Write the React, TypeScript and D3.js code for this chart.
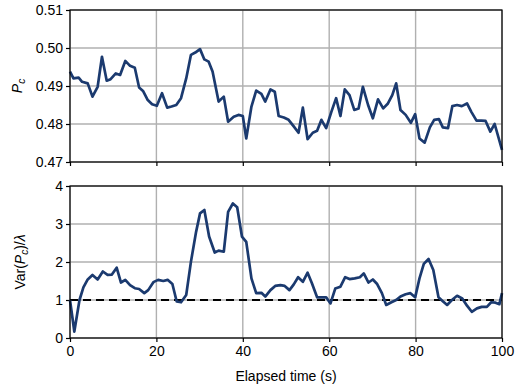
import React, { useEffect, useRef } from "react";
import * as d3 from "d3";

// top panel: P_c over time
const pcTime = [0, 0.8, 2, 2.8, 4.1, 5.2, 6.4, 7.4, 8.5, 9.4, 10.6, 11.6, 12.8, 13.9, 15, 16, 16.9, 18, 19, 20.1,
  21.3, 22.5, 23.5, 24.6, 25.7, 26.9, 28, 29, 30.1, 31.1, 32.1, 33, 34.4, 35.6, 36.6, 37.9, 39, 40, 40.8, 42,
  43.1, 44.3, 45.2, 46.4, 47.4, 48.3, 49.5, 50.6, 51.7, 52.9, 53.9, 55, 56.2, 57.2, 58.2, 59.3, 60.5, 61.6, 62.6, 63.6,
  64.7, 65.8, 66.8, 67.8, 69, 70.1, 71.3, 72.5, 73.6, 74.6, 75.5, 76.5, 77.7, 78.9, 79.9, 80.9, 82.1, 83.3, 84.3, 85.4,
  86.3, 87.5, 88.5, 89.6, 90.7, 91.9, 92.9, 94.1, 95.2, 96.2, 97.3, 98.3, 100];
const pcValue = [0.4938, 0.492, 0.4922, 0.4911, 0.4907, 0.4872, 0.4898, 0.4977, 0.4914, 0.4918, 0.4933, 0.4929, 0.4966, 0.4953, 0.4948, 0.4896, 0.4887, 0.4863, 0.4852, 0.4848,
  0.4881, 0.4843, 0.4846, 0.485, 0.4868, 0.492, 0.4982, 0.4988, 0.4997, 0.497, 0.4964, 0.4938, 0.4859, 0.4872, 0.4806, 0.4819, 0.4824, 0.4821, 0.4762, 0.4846,
  0.4888, 0.4879, 0.4859, 0.4891, 0.4885, 0.4821, 0.4817, 0.4811, 0.4795, 0.4777, 0.4843, 0.476, 0.4777, 0.4782, 0.4811, 0.4789, 0.4832, 0.4868, 0.4821, 0.4891,
  0.4876, 0.4837, 0.4841, 0.4898, 0.485, 0.4815, 0.4865, 0.4841, 0.4854, 0.4876, 0.4907, 0.4837, 0.4824, 0.4803, 0.4826, 0.4762, 0.4751, 0.4791, 0.4811, 0.4813,
  0.4791, 0.4789, 0.4847, 0.485, 0.4847, 0.4854, 0.4832, 0.4809, 0.4809, 0.4808, 0.478, 0.48, 0.4732];

// bottom panel: Var(P_c)/lambda over time
const varTime = [0, 1, 2.2, 3.1, 4.1, 5.2, 6.4, 7.6, 8.7, 9.7, 10.8, 11.8, 12.8, 13.9, 15, 16, 17.2, 18.1, 19.3, 20.4,
  21.6, 22.6, 23.7, 24.7, 25.7, 26.9, 28, 29.2, 30.1, 31.1, 32.2, 33.5, 34.4, 35.6, 36.6, 37.7, 38.7, 39.8, 40.8, 42,
  43.1, 44.3, 45.2, 46.4, 47.5, 48.7, 49.7, 50.8, 51.8, 52.8, 53.9, 55, 56, 57.2, 58.3, 59.3, 60.3, 61.4, 62.6, 63.7,
  64.7, 65.9, 67.1, 68, 69.1, 70.1, 71.1, 72.2, 73.2, 74.4, 75.5, 76.5, 77.7, 78.8, 79.9, 80.9, 81.9, 83, 84.1, 85.3,
  86.3, 87.3, 88.4, 89.6, 90.8, 91.9, 93, 94.2, 95.3, 96.5, 97.5, 98.5, 99.4, 100];
const varValue = [1.0, 0.17, 1.0, 1.33, 1.54, 1.66, 1.54, 1.75, 1.66, 1.67, 1.85, 1.46, 1.53, 1.39, 1.31, 1.29, 1.18, 1.26, 1.47, 1.53,
  1.5, 1.53, 1.42, 0.96, 0.94, 1.13, 2.01, 2.8, 3.28, 3.37, 2.67, 2.25, 2.3, 2.27, 3.32, 3.54, 3.44, 2.67, 2.53, 1.57,
  1.18, 1.19, 1.09, 1.26, 1.37, 1.39, 1.37, 1.26, 1.41, 1.6, 1.48, 1.72, 1.44, 1.07, 1.07, 1.07, 0.91, 1.3, 1.35, 1.6,
  1.55, 1.57, 1.6, 1.7, 1.46, 1.54, 1.42, 1.18, 0.87, 0.94, 1.0, 1.09, 1.15, 1.18, 1.07, 1.57, 1.95, 2.08, 1.79, 1.07,
  0.97, 0.87, 1.0, 1.11, 1.04, 0.85, 0.69, 0.78, 0.82, 0.82, 0.94, 0.93, 0.89, 1.18];

const xTicks = [0, 20, 40, 60, 80, 100];
const pcTicks = [0.47, 0.48, 0.49, 0.5, 0.51];
const varTicks = [0, 1, 2, 3, 4];
const refLevel = 1;

const W = 520, H = 390;
const left = 70, right = 502;
const top1 = 10, bot1 = 162;
const top2 = 186, bot2 = 338;
const lineColor = "#1b3a6f";
const font = "'Liberation Sans', Arial, sans-serif";
const fs = 14;

export default function App() {
  const ref = useRef<SVGSVGElement>(null);

  useEffect(() => {
    const svg = d3.select(ref.current);
    svg.selectAll("*").remove();

    const x = d3.scaleLinear().domain([0, 100]).range([left, right]);
    const y1 = d3.scaleLinear().domain([0.47, 0.51]).range([bot1, top1]);
    const y2 = d3.scaleLinear().domain([0, 4]).range([bot2, top2]);

    function panel(y, yTicks, fmt, top, bot, showX) {
      const g = svg.append("g");
      // grid
      g.selectAll(".gx").data(xTicks).enter().append("line")
        .attr("x1", (d) => x(d)).attr("x2", (d) => x(d))
        .attr("y1", top).attr("y2", bot)
        .attr("stroke", "#b0b0b0").attr("stroke-width", 1.4);
      g.selectAll(".gy").data(yTicks).enter().append("line")
        .attr("x1", left).attr("x2", right)
        .attr("y1", (d) => y(d)).attr("y2", (d) => y(d))
        .attr("stroke", "#b0b0b0").attr("stroke-width", 1.4);

      const xAxis = g.append("g").attr("transform", `translate(0,${bot})`)
        .call(d3.axisBottom(x).tickValues(xTicks).tickSize(4).tickSizeOuter(0)
          .tickFormat(showX ? d3.format("d") : () => ""));
      const yAxis = g.append("g").attr("transform", `translate(${left},0)`)
        .call(d3.axisLeft(y).tickValues(yTicks).tickSize(4).tickSizeOuter(0).tickFormat(fmt));
      [xAxis, yAxis].forEach((a) => {
        a.select(".domain").remove();
        a.selectAll("line").attr("stroke", "#000").attr("stroke-width", 1.2);
        a.selectAll("text").attr("font-family", font).attr("font-size", fs).attr("fill", "#000");
      });
      yAxis.selectAll("text").attr("x", -7);
      xAxis.selectAll("text").attr("y", 8);
      return g;
    }

    const g1 = panel(y1, pcTicks, d3.format(".2f"), top1, bot1, false);
    const pcData = pcTime.map((t, i) => ({ t, v: pcValue[i] }));
    g1.append("path").datum(pcData)
      .attr("fill", "none").attr("stroke", lineColor).attr("stroke-width", 2.7)
      .attr("stroke-linejoin", "round")
      .attr("d", d3.line<any>().x((d) => x(d.t)).y((d) => y1(d.v)));
    g1.append("rect").attr("x", left).attr("y", top1).attr("width", right - left).attr("height", bot1 - top1)
      .attr("fill", "none").attr("stroke", "#000").attr("stroke-width", 1.2);

    const g2 = panel(y2, varTicks, d3.format("d"), top2, bot2, true);
    g2.append("line").attr("x1", left).attr("x2", right)
      .attr("y1", y2(refLevel)).attr("y2", y2(refLevel))
      .attr("stroke", "#000").attr("stroke-width", 2).attr("stroke-dasharray", "8,5");
    const varData = varTime.map((t, i) => ({ t, v: varValue[i] }));
    g2.append("path").datum(varData)
      .attr("fill", "none").attr("stroke", lineColor).attr("stroke-width", 2.7)
      .attr("stroke-linejoin", "round")
      .attr("d", d3.line<any>().x((d) => x(d.t)).y((d) => y2(d.v)));
    g2.append("rect").attr("x", left).attr("y", top2).attr("width", right - left).attr("height", bot2 - top2)
      .attr("fill", "none").attr("stroke", "#000").attr("stroke-width", 1.2);

    // axis titles
    svg.append("text").attr("x", (left + right) / 2).attr("y", 381)
      .attr("text-anchor", "middle").attr("font-family", font).attr("font-size", fs)
      .text("Elapsed time (s)");

    const t1 = svg.append("text")
      .attr("transform", `translate(22,${(top1 + bot1) / 2}) rotate(-90)`)
      .attr("text-anchor", "middle").attr("font-family", font).attr("font-size", fs);
    t1.append("tspan").attr("font-style", "italic").text("P");
    t1.append("tspan").attr("font-style", "italic").attr("font-size", 10).attr("dy", 3).text("c");

    const t2 = svg.append("text")
      .attr("transform", `translate(25,${(top2 + bot2) / 2}) rotate(-90)`)
      .attr("text-anchor", "middle").attr("font-family", font).attr("font-size", fs);
    t2.append("tspan").text("Var(");
    t2.append("tspan").attr("font-style", "italic").text("P");
    t2.append("tspan").attr("font-style", "italic").attr("font-size", 10).attr("dy", 3).text("c");
    t2.append("tspan").attr("dy", -3).text(")/");
    t2.append("tspan").attr("font-style", "italic").text("λ");
  }, []);

  return (
    <svg ref={ref} width={W} height={H} style={{ position: "absolute", left: 0, top: 0, background: "#fff" }} />
  );
}
